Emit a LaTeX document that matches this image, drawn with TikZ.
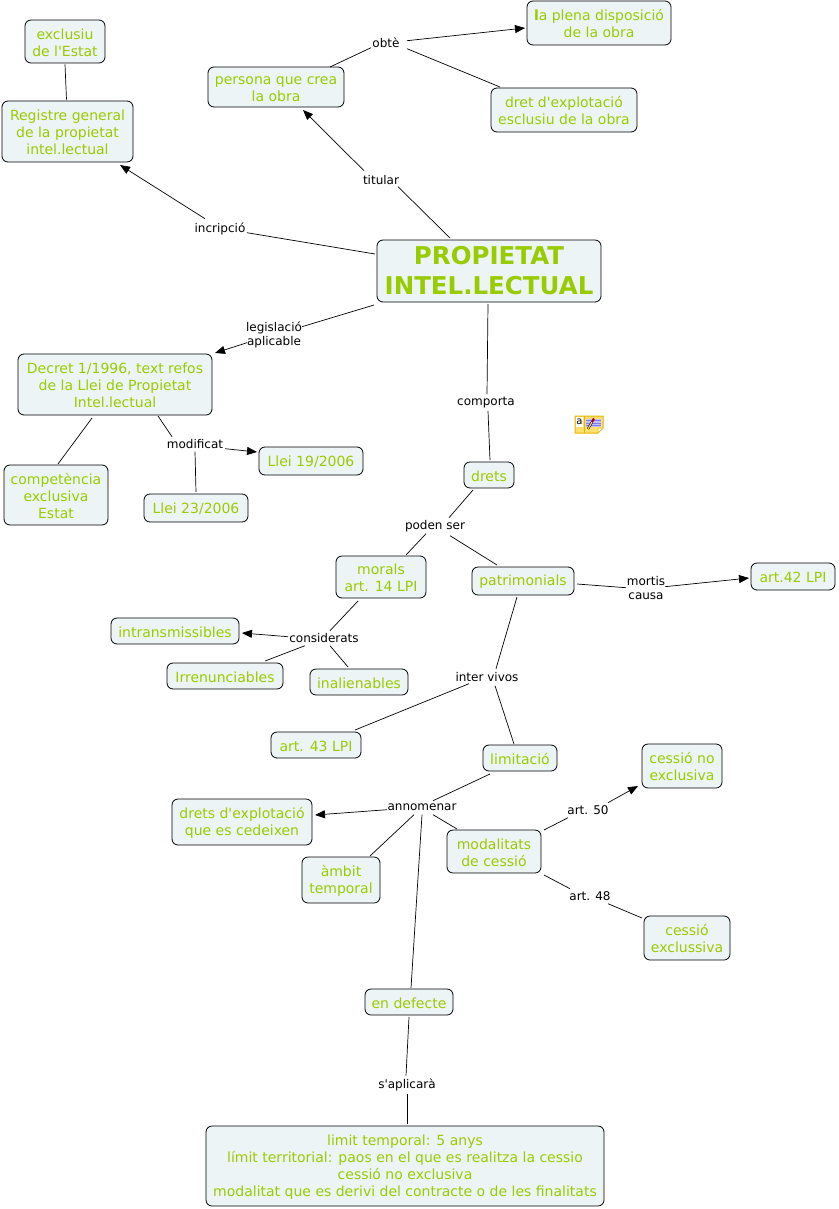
\documentclass[tikz,border=0pt]{standalone}
\usepackage{fontspec}
\setmainfont{DejaVu Sans}[Ligatures=TeXOff]
\usetikzlibrary{arrows.meta}
\definecolor{boxfill}{HTML}{EDF4F6}
\definecolor{boxtext}{HTML}{99CC00}
\definecolor{iconyel}{HTML}{FFE070}
\definecolor{iconedge}{HTML}{E8B400}
\tikzset{
  box/.style={draw=black,fill=boxfill,rounded corners=6pt,line width=0.8pt,text=boxtext,align=center,inner sep=0pt,font=\fontsize{14}{17}\selectfont},
  lab/.style={text=black,align=center,inner sep=1pt,yshift=-0.7pt,font=\fontsize{12}{14}\selectfont},
  ln/.style={draw=black,line width=0.7pt},
  arr/.style={ln,-{Triangle[length=10pt,width=8pt]}}
}
\newcommand{\bx}[7][]{\node[box,minimum width=#5 pt-#3 pt,minimum height=#6 pt-#4 pt,#1] (#2) at ({(#3+#5)/2},{(#4+#6)/2}) {\rule{0pt}{0.9em}#7};}
\begin{document}
\begin{tikzpicture}[x=1pt,y=-1pt]
\useasboundingbox (0,0) rectangle (838,1209);
\bx{excl}{25}{20}{105}{63}{exclusiu\\de l'Estat}
\bx{reg}{2}{101}{133}{162}{Registre general\\de la propietat\\intel.lectual}
\bx{pers}{208}{67}{344}{107}{persona que crea\\la obra}
\bx{plena}{527}{1}{671}{45}{{\bfseries l}a plena disposició\\de la obra}
\bx{dret}{491}{88}{637}{132}{dret d'explotació\\esclusiu de la obra}
\node[box,minimum width=224pt,minimum height=62pt,font=\fontsize{24.5}{30}\selectfont\bfseries] (prop) at (489,271) {PROPIETAT\\INTEL.LECTUAL};
\bx{dec}{18}{354}{212}{415}{Decret 1/1996, text refos\\de la Llei de Propietat\\Intel.lectual}
\bx{comp}{4}{465}{108}{525}{competència\\exclusiva\\Estat}
\bx{lxxiii}{144}{494}{248}{522}{Llei 23/2006}
\bx{lxix}{259}{447}{363}{475}{Llei 19/2006}
\bx{drets}{464}{462}{514}{488}{drets}
\bx{mor}{336}{556}{426}{598}{morals\\art. 14 LPI}
\bx{pat}{472}{567}{574}{595}{patrimonials}
\bx{axlii}{751}{563}{835}{590}{art.42 LPI}
\bx{intr}{111}{618}{239}{644}{intransmissibles}
\bx{irr}{167}{663}{283}{689}{Irrenunciables}
\bx{ina}{310}{669}{408}{695}{inalienables}
\bx{axliii}{271}{732}{361}{758}{art. 43 LPI}
\bx{lim}{483}{745}{557}{771}{limitació}
\bx{cno}{642}{744}{722}{788}{cessió no\\exclusiva}
\bx{dex}{172}{799}{312}{845}{drets d'explotació\\que es cedeixen}
\bx{amb}{302}{857}{380}{903}{àmbit\\temporal}
\bx{mod}{447}{830}{541}{873}{modalitats\\de cessió}
\bx{cex}{644}{916}{730}{960}{cessió\\exclussiva}
\bx{def}{365}{989}{453}{1015}{en defecte}
\bx{lmt}{206}{1126}{604}{1206}{limit temporal: 5 anys\\límit territorial: paos en el que es realitza la cessio\\cessió no exclusiva\\modalitat que es derivi del contracte o de les finalitats}
\node[lab] (obte) at (386,42) {obtè};
\node[lab] (tit) at (381,179) {titular};
\node[lab] (inc) at (220,228) {incripció};
\node[lab] (leg) at (274,334) {legislació\\aplicable};
\node[lab] (cmp) at (486,401.5) {comporta};
\node[lab] (modif) at (195,443) {modificat};
\node[lab] (pod) at (435,525) {poden ser};
\node[lab] (mort) at (646,587) {mortis\\causa};
\node[lab] (cons) at (324,637) {considerats};
\node[lab] (inter) at (487,676) {inter vivos};
\node[lab] (ann) at (422,807) {annomenar};
\node[lab] (aL) at (588,809) {art. 50};
\node[lab] (aX) at (590,895) {art. 48};
\node[lab] (apl) at (407,1084) {s'aplicarà};
% connectors
\draw[ln] ([shift={(0,1)}]excl.south) -- ([shift={(-1,-1)}]reg.north);
\draw[ln] ([shift={(-15,5)}]obte.center) -- ([shift={(54,-20)}]pers.center);
\draw[arr] ([shift={(21,-2)}]obte.center) -- ([shift={(-74,5)}]plena.center);
\draw[ln] ([shift={(21,6)}]obte.center) -- ([shift={(-64,-23)}]dret.center);
\draw[arr] ([shift={(-17,-9)}]tit.center) -- ([shift={(27,23)}]pers.center);
\draw[ln] ([shift={(17,7)}]tit.center) -- ([shift={(-39,-33)}]prop.center);
\draw[arr] ([shift={(-15,-10)}]inc.center) -- ([shift={(52.5,33.5)}]reg.center);
\draw[ln] ([shift={(27,4)}]inc.center) -- ([shift={(-114,-17)}]prop.center);
\draw[ln] ([shift={(28,-8)}]leg.center) -- ([shift={(-115,34)}]prop.center);
\draw[arr] ([shift={(-27,8)}]leg.center) -- ([shift={(100,-31.5)}]dec.center);
\draw[ln] ([shift={(-1,33)}]prop.center) -- ([shift={(1,-8)}]cmp.center);
\draw[ln] ([shift={(2,9)}]cmp.center) -- ([shift={(1,-15)}]drets.center);
\draw[ln] ([shift={(-23,33.5)}]dec.center) -- ([shift={(2,-31)}]comp.center);
\draw[ln] ([shift={(43,31.5)}]dec.center) -- ([shift={(-23,-7)}]modif.center);
\draw[ln] ([shift={(0,8)}]modif.center) -- ([shift={(0,-16)}]lxxiii.center);
\draw[arr] ([shift={(30,5)}]modif.center) -- ([shift={(-54,-9)}]lxix.center);
\draw[ln] ([shift={(-16,15)}]drets.center) -- ([shift={(14,-8)}]pod.center);
\draw[ln] ([shift={(-9,8)}]pod.center) -- ([shift={(25,-22)}]mor.center);
\draw[ln] ([shift={(15,10)}]pod.center) -- ([shift={(-26,-16)}]pat.center);
\draw[ln] ([shift={(54,3)}]pat.center) -- ([shift={(-20,0)}]mort.center);
\draw[arr] ([shift={(19,-1)}]mort.center) -- ([shift={(-44,1.5)}]axlii.center);
\draw[ln] ([shift={(-6,16)}]pat.center) -- ([shift={(9,-8)}]inter.center);
\draw[ln] ([shift={(-18,7)}]inter.center) -- ([shift={(39,-15)}]axliii.center);
\draw[ln] ([shift={(8,9)}]inter.center) -- ([shift={(-6,-14)}]lim.center);
\draw[ln] ([shift={(-23,24)}]mor.center) -- ([shift={(6,-7)}]cons.center);
\draw[arr] ([shift={(-36,-1)}]cons.center) -- ([shift={(67,2)}]intr.center);
\draw[ln] ([shift={(-19,8)}]cons.center) -- ([shift={(40,-15)}]irr.center);
\draw[ln] ([shift={(6,8)}]cons.center) -- ([shift={(-11,-15)}]ina.center);
\draw[ln] ([shift={(-30,16)}]lim.center) -- ([shift={(11,-7)}]ann.center);
\draw[arr] ([shift={(-35,2)}]ann.center) -- ([shift={(73,-7)}]dex.center);
\draw[ln] ([shift={(-8,7)}]ann.center) -- ([shift={(29,-24)}]amb.center);
\draw[ln] ([shift={(11,7)}]ann.center) -- ([shift={(-37,-22.5)}]mod.center);
\draw[ln] ([shift={(0,7)}]ann.center) -- ([shift={(2,-14)}]def.center);
\draw[ln] ([shift={(50,-21.5)}]mod.center) -- ([shift={(-20,8)}]aL.center);
\draw[arr] ([shift={(20,-7)}]aL.center) -- ([shift={(-44,20)}]cno.center);
\draw[ln] ([shift={(50,23.5)}]mod.center) -- ([shift={(-20,-7)}]aX.center);
\draw[ln] ([shift={(18,8)}]aX.center) -- ([shift={(-45,-20)}]cex.center);
\draw[ln] ([shift={(0,15)}]def.center) -- ([shift={(-1,-9)}]apl.center);
\draw[ln] ([shift={(0,9)}]apl.center) -- ([shift={(2,-42)}]lmt.center);
% note icon
\fill[iconyel,draw=iconedge,line width=1pt] (575,416) -- (603,416) -- (603,428) -- (598,433) -- (575,433) -- cycle;
\fill[white] (576,417) rectangle (583,427);
\draw[iconedge,line width=0.6pt] (584,416) -- (584,433);
\node[inner sep=0pt,font=\fontsize{10}{10}\selectfont] at (579.5,421.5) {a};
\fill[blue!25!white] (586,419) rectangle (601,427);
\foreach \yy in {420.5,423,425.5} \draw[blue!50!white,line width=0.6pt] (586,\yy) -- (601,\yy);
\draw[black,line width=2.2pt] (588,429) -- (592,422);
\draw[iconyel!80!orange,line width=1.2pt] (588,429) -- (592,422);
\draw[red!70!black,line width=2.2pt] (592,422) -- (594,418.5);
\fill[white,draw=iconedge,line width=0.5pt] (598,433) -- (598,428) -- (603,428) -- cycle;
\end{tikzpicture}
\end{document}
